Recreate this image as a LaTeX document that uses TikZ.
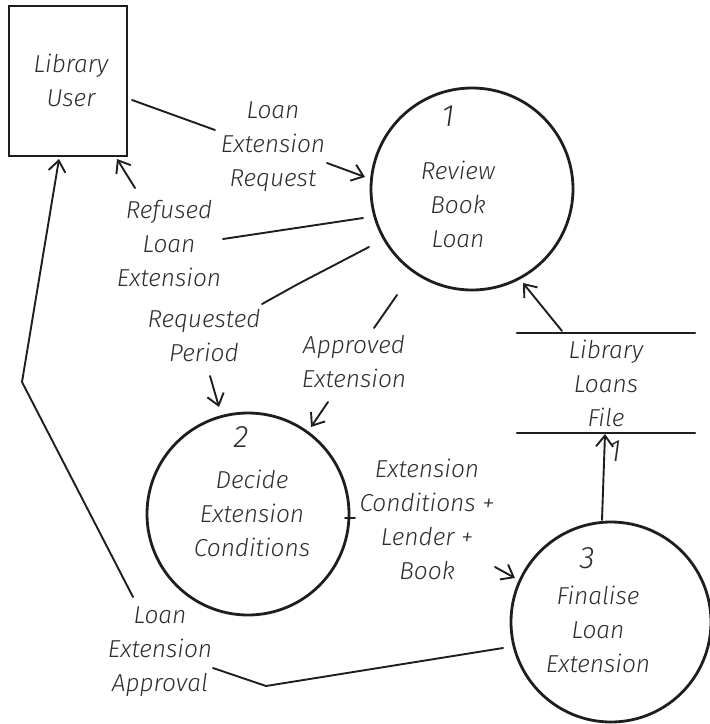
\documentclass[tikz,border=0pt]{standalone}
\usepackage{fontspec}
\newfontfamily\hand{Fira Sans Light Italic}
\usetikzlibrary{arrows.meta}
\definecolor{ink}{HTML}{1E1E1E}
\definecolor{txt}{HTML}{2E2E2E}
\begin{document}
\begin{tikzpicture}[x=1pt,y=-1pt,
  lbl/.style={font=\hand\fontsize{24.5}{34}\selectfont, text=txt, align=center, inner sep=0pt},
  num/.style={font=\hand\fontsize{31}{31}\selectfont, text=txt, inner sep=0pt},
  flow/.style={draw=ink, line width=1.9pt, line cap=round, line join=round},
  arr/.style={flow, -{Straight Barb[length=11pt,width=17pt,line width=1.9pt]}},
  proc/.style={circle, draw=ink, line width=2.8pt, inner sep=0pt},
  entity/.style={rectangle, draw=ink, line width=2.6pt, inner sep=0pt},
]
\useasboundingbox (0,0) rectangle (710,724);

% external entity
\node[entity, minimum width=118pt, minimum height=150pt] (user) at (68,81) {};
\node[lbl] (userT) at (71,80) {Library\\User};

% processes
\node[proc, minimum size=202pt] (c1) at (472,189) {};
\node[num] (c1n) at (448,116) {1};
\node[lbl] (c1T) at (458,204) {Review\\Book\\Loan};

\node[proc, minimum size=202pt] (c2) at (248,514) {};
\node[num] (c2n) at (241,437) {2};
\node[lbl] (c2T) at (252,513) {Decide\\Extension\\Conditions};

\node[proc, minimum size=200pt] (c3) at (611,622) {};
\node[num] (c3n) at (587,558) {3};
\node[lbl] (c3T) at (598,629) {Finalise\\Loan\\Extension};

% data store
\node[lbl, minimum width=178pt, minimum height=100pt] (store) at (606,383) {Library\\Loans\\File};
\draw[flow] (store.north west) -- (store.north east);
\draw[flow] (store.south west) -- (store.south east);
\node[num] (storeid) at (615,451) {1};

% flow labels
\node[lbl] (lReq)  at (273,147) {Loan\\Extension\\Request};
\node[lbl] (lRef)  at (169,244) {Refused\\Loan\\Extension};
\node[lbl] (lPer)  at (204,336) {Requested\\Period};
\node[lbl] (lApp)  at (354,362) {Approved\\Extension};
\node[lbl] (lCond) at (427,519) {Extension\\Conditions +\\Lender +\\Book};
\node[lbl] (lFin)  at (160,652) {Loan\\Extension\\Approval};

% connector points
\coordinate (q0) at (132,100); \coordinate (q1) at (215,130);
\coordinate (q2) at (327,163); \coordinate (q3) at (365,177);
\coordinate (r0) at (363,218); \coordinate (r1) at (223,239);
\coordinate (r2) at (135,188); \coordinate (r3) at (117,159);
\coordinate (p0) at (369,247); \coordinate (p1) at (298,284); \coordinate (p2) at (262,304);
\coordinate (p3) at (210,376); \coordinate (p4) at (219,407);
\coordinate (a0) at (397,295); \coordinate (a1) at (374,328);
\coordinate (a2) at (328,402); \coordinate (a3) at (311,427);
\coordinate (s0) at (562,331); \coordinate (s1) at (523,283);
\coordinate (t0) at (602,520); \coordinate (t1) at (605,434);
\coordinate (k0) at (345,518); \coordinate (k1) at (355,518);
\coordinate (k2) at (495,567); \coordinate (k3) at (515,578);
\coordinate (v0) at (503,648); \coordinate (v1) at (266,686); \coordinate (v2) at (213,668);
\coordinate (v3) at (133,597); \coordinate (v4) at (22,382);  \coordinate (v5) at (59,159);

% data flows
\draw[flow] (q0) -- (q1);
\draw[arr]  (q2) -- (q3);
\draw[flow] (r0) -- (r1);
\draw[arr]  (r2) -- (r3);
\draw[flow] (p0) -- (p1) -- (p2);
\draw[arr]  (p3) -- (p4);
\draw[flow] (a0) -- (a1);
\draw[arr]  (a2) -- (a3);
\draw[arr]  (s0) -- (s1);
\draw[arr]  (t0) -- (t1);
\draw[flow] (k0) -- (k1);
\draw[arr]  (k2) -- (k3);
\draw[flow] (v0) -- (v1) -- (v2);
\draw[arr]  (v3) -- (v4) -- (v5);
\end{tikzpicture}
\end{document}
